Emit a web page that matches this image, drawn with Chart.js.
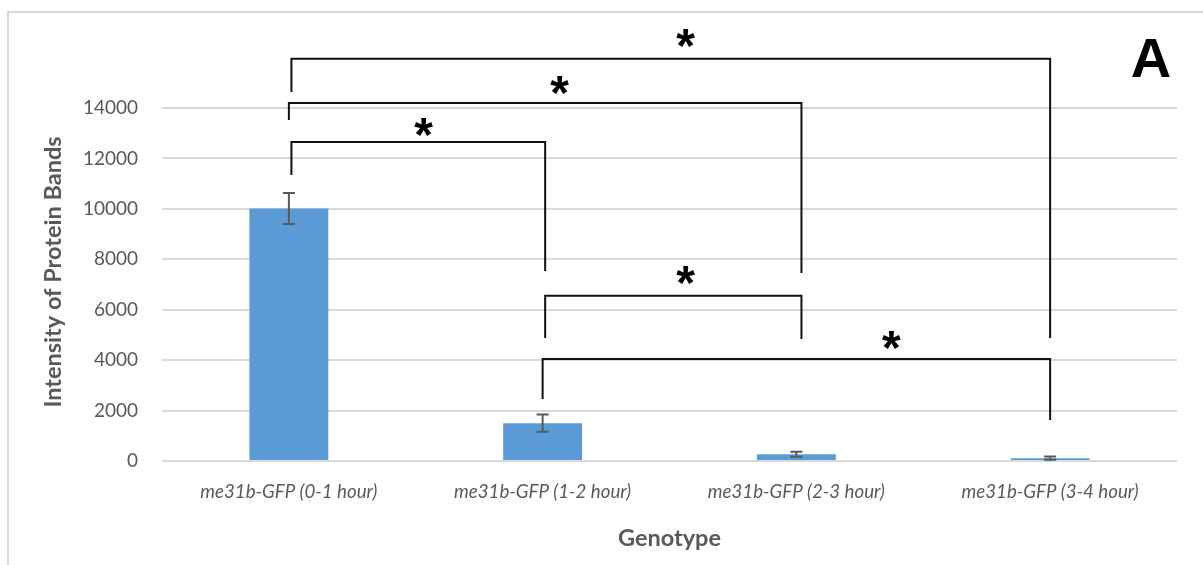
<!DOCTYPE html>
<html>
<head>
<meta charset="utf-8">
<script src="https://cdn.jsdelivr.net/npm/chart.js@4/dist/chart.umd.min.js"></script>
<style>
  html, body { margin: 0; padding: 0; background: #ffffff; }
  #wrap { width: 1203px; height: 565px; position: relative; }
</style>
</head>
<body>
<div id="wrap"><canvas id="c" width="1203" height="565"></canvas></div>
<script>
// ---- data ----
const categories = ['me31b-GFP (0-1 hour)', 'me31b-GFP (1-2 hour)', 'me31b-GFP (2-3 hour)', 'me31b-GFP (3-4 hour)'];
const intensity = [10015, 1500, 270, 110];
const errorSize = [615, 340, 100, 65];
const yTicks = [0, 2000, 4000, 6000, 8000, 10000, 12000, 14000];

// significance brackets (x in category index units, y in data units)
const bracketFrom = [0.01, 0.0, 0.01, 1.01, 1.0];
const bracketTo = [3.0, 2.02, 1.01, 2.02, 3.0];
const bracketTop = [15950, 14200, 12650, 6550, 4050];
const bracketLeftEnd = [14630, 13520, 11340, 4880, 2460];
const bracketRightEnd = [4880, 7460, 7540, 4840, 1630];
const starX = [1.563, 1.067, 0.531, 1.563, 2.374];
const starY = [16780, 14910, 13250, 7380, 4800];
const starText = ['*', '*', '*', '*', '*'];
const panelLabel = 'A';
const xTitle = 'Genotype';
const yTitle = 'Intensity of Protein Bands';

const GRAY = '#595959';
const FONT = 'Lato, "Open Sans", sans-serif';

const extras = {
  id: 'extras',
  beforeDraw(chart) {
    const ctx = chart.ctx;
    ctx.save();
    ctx.fillStyle = '#ffffff';
    ctx.fillRect(0, 0, chart.width, chart.height);
    ctx.strokeStyle = '#d9d9d9';
    ctx.lineWidth = 2;
    ctx.beginPath();
    ctx.moveTo(8, chart.height + 5);
    ctx.lineTo(8, 12);
    ctx.lineTo(chart.width + 5, 12);
    ctx.stroke();
    ctx.restore();
  },
  afterDatasetsDraw(chart) {
    const ctx = chart.ctx;
    const xs = chart.scales.x, ys = chart.scales.y;
    const x0 = xs.getPixelForValue(0), x1 = xs.getPixelForValue(1);
    const px = (i) => x0 + i * (x1 - x0);
    ctx.save();
    // error bars
    ctx.strokeStyle = GRAY;
    ctx.lineWidth = 2;
    intensity.forEach((v, i) => {
      const cx = xs.getPixelForValue(i);
      const yt = ys.getPixelForValue(v + errorSize[i]);
      const yb = ys.getPixelForValue(v - errorSize[i]);
      ctx.beginPath();
      ctx.moveTo(cx, yt); ctx.lineTo(cx, yb);
      ctx.moveTo(cx - 6, yt); ctx.lineTo(cx + 6, yt);
      ctx.moveTo(cx - 6, yb); ctx.lineTo(cx + 6, yb);
      ctx.stroke();
    });
    // brackets
    ctx.strokeStyle = '#111111';
    ctx.lineWidth = 2;
    ctx.lineJoin = 'miter';
    bracketFrom.forEach((f, i) => {
      const xl = px(f), xr = px(bracketTo[i]);
      const yt = ys.getPixelForValue(bracketTop[i]);
      ctx.beginPath();
      ctx.moveTo(xl, ys.getPixelForValue(bracketLeftEnd[i]));
      ctx.lineTo(xl, yt);
      ctx.lineTo(xr, yt);
      ctx.lineTo(xr, ys.getPixelForValue(bracketRightEnd[i]));
      ctx.stroke();
    });
    // stars
    ctx.fillStyle = '#000000';
    ctx.font = 'bold 48px "Liberation Sans", Arial, sans-serif';
    ctx.textAlign = 'center';
    ctx.textBaseline = 'alphabetic';
    starText.forEach((s, i) => {
      const m = ctx.measureText(s);
      const cy = ys.getPixelForValue(starY[i]);
      const base = cy + (m.actualBoundingBoxAscent - m.actualBoundingBoxDescent) / 2;
      ctx.fillText(s, px(starX[i]), base);
    });
    // panel label
    ctx.font = 'bold 56px "Liberation Sans", Arial, sans-serif';
    ctx.fillText(panelLabel, 1151, 77);
    // y title
    ctx.fillStyle = GRAY;
    ctx.font = 'bold 23.5px ' + FONT;
    ctx.translate(53, 272);
    ctx.rotate(-Math.PI / 2);
    ctx.textBaseline = 'middle';
    ctx.fillText(yTitle, 0, 0);
    ctx.restore();
  }
};

new Chart(document.getElementById('c'), {
  type: 'bar',
  data: {
    labels: categories,
    datasets: [{
      data: intensity,
      backgroundColor: '#5b9bd5',
      borderWidth: 0,
      categoryPercentage: 0.311,
      barPercentage: 1.0
    }]
  },
  options: {
    responsive: false,
    animation: false,
    devicePixelRatio: 1,
    layout: { padding: { top: 108, right: 26, left: 0, bottom: 0 } },
    plugins: { legend: { display: false }, tooltip: { enabled: false } },
    scales: {
      x: {
        grid: { display: false, drawTicks: false },
        border: { display: false },
        ticks: { color: GRAY, padding: 20, font: { family: FONT, size: 18.7, style: 'italic' } },
        title: { display: true, text: xTitle, color: GRAY, padding: { top: 0, bottom: 12 }, font: { family: FONT, size: 23.5, weight: 'bold' } },
        afterFit(scale) { scale.height = 104; }
      },
      y: {
        min: 0, max: 14000,
        afterBuildTicks(scale) { scale.ticks = yTicks.map(v => ({ value: v })); },
        grid: { color: '#d9d9d9', lineWidth: 2, drawTicks: false },
        border: { display: false },
        ticks: { color: GRAY, padding: 24, font: { family: FONT, size: 19 }, callback: (v) => String(v) },
        afterFit(scale) { scale.width = 162; }
      }
    }
  },
  plugins: [extras]
});
</script>
</body>
</html>
